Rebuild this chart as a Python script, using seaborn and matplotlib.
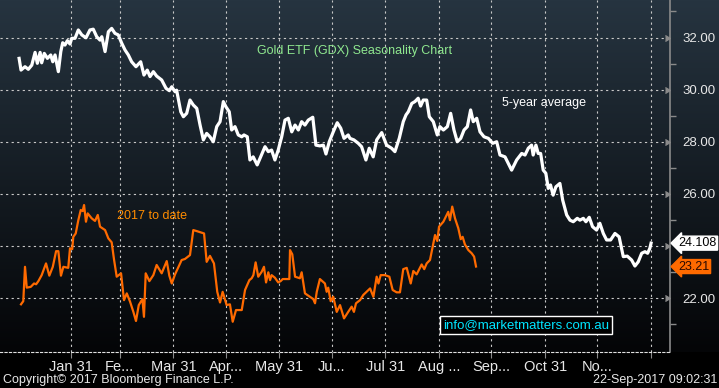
import numpy as np
import pandas as pd
import matplotlib
matplotlib.use("Agg")
import matplotlib.pyplot as plt
import seaborn as sns

# 5-year average seasonal path (day of year, price)
avg_day = [1.1, 2.2, 4.5, 6.4, 8.4, 10.3, 11.6, 13.2, 14.1, 15.6, 17.4, 19.3, 20.5, 21.8, 23.7, 25.1,
           26.2, 27.5, 28.9, 30.4, 31.4, 33.3, 35.2, 37.2, 39.6, 41.9, 43.8, 45.8, 47.7, 48.7, 50.6, 52.5,
           54.4, 56.3, 58.2, 60.2, 62.1, 64.0, 65.9, 68.4, 71.1, 73.0, 74.9, 76.5, 78.4, 80.3, 83.2, 85.7,
           87.6, 89.0, 90.9, 91.8, 94.2, 95.7, 97.6, 99.5, 101.4, 103.4, 105.3, 107.2, 109.1, 111.0, 112.9,
           114.9, 116.8, 118.7, 120.2, 122.1, 123.5, 125.4, 127.3, 129.3, 130.6, 132.5, 134.0, 135.9, 138.2,
           140.2, 142.7, 144.6, 146.5, 148.4, 150.3, 152.3, 154.2, 156.1, 158.1, 160.0, 161.9, 163.8, 165.7,
           167.6, 170.2, 172.0, 174.3, 176.3, 177.8, 179.7, 182.0, 184.3, 186.3, 188.2, 190.6, 191.6, 193.9,
           196.4, 198.3, 200.8, 202.7, 205.0, 207.0, 209.9, 212.7, 215.6, 217.5, 220.0, 222.3, 223.9, 225.2,
           227.2, 229.0, 230.9, 232.3, 233.8, 235.8, 237.3, 239.6, 241.9, 243.4, 245.4, 247.7, 249.6, 251.5,
           253.4, 255.4, 257.3, 259.2, 261.1, 262.6, 264.6, 266.5, 268.8, 271.3, 273.8, 276.1, 278.0, 280.9,
           284.7, 287.6, 290.5, 292.4, 294.3, 296.2, 297.1, 298.7, 300.0, 301.4, 302.9, 304.4, 305.8, 307.1,
           308.6, 310.2, 312.5, 314.1, 316.4, 318.3, 320.2, 322.5, 324.0, 326.0, 327.5, 329.4, 331.3, 333.6,
           335.5, 337.5, 339.4, 341.7, 344.2, 346.6, 349.0, 351.3, 353.8, 355.7, 357.6, 359.6, 361.5, 363.0,
           364.3, 365.0]
avg_val = [31.20, 30.75, 30.88, 30.78, 30.94, 31.43, 31.01, 31.43, 31.03, 31.39, 31.20, 31.33, 31.07, 31.33,
           30.69, 31.46, 31.80, 31.71, 31.88, 31.75, 31.97, 31.97, 32.29, 32.10, 31.99, 32.29, 32.32, 32.03,
           31.90, 32.03, 31.46, 32.22, 32.35, 32.16, 32.10, 31.78, 31.52, 31.33, 31.07, 30.88, 31.07, 30.56,
           30.75, 30.50, 30.69, 30.52, 30.37, 30.05, 29.96, 30.11, 29.92, 29.98, 29.15, 28.96, 29.09, 29.60,
           29.41, 29.28, 28.64, 28.07, 28.32, 28.19, 28.00, 28.58, 28.77, 29.54, 29.34, 29.15, 28.45, 28.58,
           28.26, 28.19, 28.26, 28.19, 27.30, 27.42, 27.11, 27.42, 27.81, 27.62, 27.68, 27.30, 27.68, 28.19,
           28.83, 28.90, 28.38, 28.64, 28.45, 28.77, 28.64, 28.83, 28.94, 27.87, 27.84, 27.87, 27.53, 28.00,
           28.38, 28.73, 28.52, 28.13, 28.26, 28.13, 28.07, 27.94, 27.81, 27.30, 27.75, 27.42, 28.07, 28.35,
           27.87, 27.75, 27.62, 28.13, 28.77, 29.03, 29.15, 29.47, 29.54, 29.67, 29.37, 29.60, 29.60, 28.96,
           28.77, 28.26, 28.58, 28.45, 28.58, 29.09, 28.45, 28.00, 28.13, 28.45, 28.58, 29.22, 28.77, 28.90,
           28.38, 28.19, 28.13, 27.94, 28.00, 27.49, 27.42, 26.91, 27.30, 27.55, 27.49, 27.75, 27.87, 27.49,
           27.87, 27.55, 27.55, 26.91, 26.79, 26.21, 26.34, 25.95, 26.27, 26.40, 25.76, 25.19, 24.99, 24.93,
           25.06, 24.99, 25.06, 24.93, 25.10, 24.74, 24.61, 24.87, 24.48, 24.23, 24.23, 24.48, 24.35, 23.59,
           23.61, 23.46, 23.23, 23.39, 23.72, 23.78, 23.72, 23.91, 24.108]

# 2017 year to date (day of year, price)
ytd_day = [2.2, 3.5, 4.5, 5.5, 7.8, 9.7, 10.9, 12.2, 14.1, 16.6, 18.5, 20.5, 22.4, 23.7, 25.2, 26.6, 29.4,
           30.4, 31.7, 32.3, 33.7, 35.2, 36.6, 37.7, 38.5, 39.6, 40.6, 42.9, 44.8, 46.4, 47.7, 50.6, 52.5,
           54.4, 55.8, 57.3, 59.8, 61.5, 63.1, 65.0, 66.9, 68.4, 70.0, 72.1, 73.0, 74.0, 76.1, 78.4, 80.3,
           83.2, 86.1, 87.6, 89.0, 90.9, 94.7, 96.6, 99.5, 101.4, 103.4, 107.6, 109.1, 111.0, 113.3, 115.2,
           116.8, 118.3, 120.6, 122.5, 124.1, 126.0, 129.3, 131.2, 133.7, 135.0, 136.0, 137.3, 138.8, 140.8,
           142.1, 143.3, 144.6, 145.6, 146.5, 148.4, 150.3, 151.7, 152.9, 156.7, 157.1, 158.4, 160.0, 162.8,
           163.8, 165.7, 168.6, 170.5, 171.5, 172.5, 174.3, 177.2, 178.2, 179.1, 180.5, 182.0, 184.0, 185.9,
           188.2, 190.6, 192.6, 193.9, 195.1, 197.4, 199.3, 201.2, 203.2, 205.1, 207.0, 208.0, 209.3, 211.8,
           214.3, 216.2, 218.5, 220.4, 222.3, 224.3, 226.6, 228.1, 230.0, 232.9, 234.4, 235.8, 237.7, 240.6,
           241.9, 242.9, 245.4, 248.2, 249.2, 250.5, 252.1, 254.0, 255.4, 256.5, 257.8, 259.8, 261.7, 263.1,
           264.2]
ytd_val = [21.76, 21.88, 23.20, 22.40, 22.43, 22.56, 22.53, 22.65, 22.88, 23.33, 22.86, 23.20, 23.80, 23.80,
           22.86, 23.20, 23.16, 23.91, 23.88, 24.35, 24.48, 24.99, 25.38, 25.34, 25.57, 24.93, 25.25, 25.06,
           24.96, 25.19, 24.74, 24.61, 24.29, 24.14, 23.46, 22.82, 22.95, 21.92, 22.18, 21.86, 21.47, 21.12,
           21.73, 21.96, 21.28, 22.95, 22.65, 22.88, 23.27, 22.95, 23.42, 22.86, 22.56, 22.91, 23.46, 23.50,
           23.65, 24.61, 24.57, 24.48, 23.39, 23.62, 23.33, 22.24, 21.83, 22.24, 21.73, 21.76, 21.09, 21.54,
           21.54, 22.31, 22.69, 22.76, 22.88, 23.37, 22.82, 23.01, 23.20, 22.60, 22.99, 22.69, 22.88, 22.78,
           22.60, 22.65, 22.73, 22.73, 23.84, 23.68, 22.82, 22.76, 22.99, 22.18, 22.05, 21.96, 21.80, 22.24,
           22.73, 22.56, 22.24, 22.40, 21.88, 22.05, 21.47, 21.73, 21.22, 21.47, 21.67, 21.47, 21.80, 21.92,
           22.12, 22.24, 22.37, 22.05, 22.82, 22.56, 22.88, 22.88, 22.82, 22.31, 22.22, 22.22, 23.11, 23.16,
           22.56, 23.04, 22.91, 23.29, 23.11, 23.33, 23.46, 24.42, 24.19, 24.74, 24.93, 25.31, 24.99, 25.51,
           25.06, 24.68, 24.26, 24.35, 24.06, 23.84, 23.72, 23.59, 23.21]

month_end_days = [31, 59, 90, 120, 151, 181, 212, 243, 273, 304, 334, 365]
month_labels = ["Jan 31", "Fe...", "Mar 31", "Apr...", "May 31", "Ju...", "Jul 31",
                "Aug ...", "Sep...", "Oct 31", "No...", ""]
y_ticks = [22, 24, 26, 28, 30, 32]
# the 24.00 label sits under the last-value tag in the original
y_labels = ["22.00", "", "26.00", "28.00", "30.00", "32.00"]

avg_df = pd.DataFrame({"day": avg_day, "price": avg_val})
ytd_df = pd.DataFrame({"day": ytd_day, "price": ytd_val})

narrow = ["Liberation Sans Narrow", "Liberation Sans", "DejaVu Sans"]
plt.rcParams["font.family"] = ["Liberation Sans", "DejaVu Sans"]

fig = plt.figure(figsize=(7.19, 3.88), dpi=100, facecolor="black")

# gradient backdrop behind the plot
bg = fig.add_axes([0, 36 / 388, 1, 352 / 388], zorder=0)
top = np.array([38, 52, 64]) / 255
bot = np.array([4, 5, 7]) / 255
t = np.linspace(0, 1, 256)[:, None]
grad = top[None, None, :] * (1 - t[..., None]) + bot[None, None, :] * t[..., None]
bg.imshow(np.repeat(grad, 2, axis=1), aspect="auto", extent=[0, 1, 0, 1])
bg.axis("off")

ax = fig.add_axes([0, 36 / 388, 670 / 719, 352 / 388], zorder=1)
ax.patch.set_alpha(0)

sns.lineplot(data=avg_df, x="day", y="price", ax=ax, color="white", lw=2.3, zorder=4)
sns.lineplot(data=ytd_df, x="day", y="price", ax=ax, color="#ff6a00", lw=1.6, zorder=4)

ax.set_xlim(-9.9, 375.9)
ax.set_ylim(19.93, 33.44)
ax.set_xlabel("")
ax.set_ylabel("")

ax.set_xticks(month_end_days)
ax.set_xticklabels(month_labels)
ax.set_yticks(y_ticks)
ax.set_yticklabels(y_labels)
ax.set_yticks(np.arange(21, 34, 2), minor=True)
ax.yaxis.tick_right()

ax.grid(True, color="#c8c8c8", linestyle=(0, (2, 3)), lw=0.8, zorder=1)
for s in ["top", "left"]:
    ax.spines[s].set_visible(False)
ax.spines["right"].set_color("#8a8a8a")
ax.spines["right"].set_linewidth(1.2)
ax.spines["bottom"].set_color("#e0e0e0")
ax.spines["bottom"].set_linestyle((0, (2, 2)))

ax.tick_params(axis="x", colors="#8a8a8a", length=4, labelcolor="#e8e8e8", labelsize=10.5, pad=2)
ax.tick_params(axis="y", which="major", colors="#8a8a8a", length=0, labelcolor="#e8e8e8",
               labelsize=9.5, pad=9)
ax.tick_params(axis="y", which="minor", colors="#8a8a8a", length=4, width=1)
for lab in ax.get_xticklabels() + ax.get_yticklabels():
    lab.set_family(narrow)
for tk in ax.yaxis.get_major_ticks():
    tk.tick2line.set_marker(5)
    tk.tick2line.set_markersize(5)
    tk.tick2line.set_markerfacecolor("#8a8a8a")
    tk.tick2line.set_visible(True)

# chart annotations
ax.text(0.529, 0.855, "Gold ETF (GDX) Seasonality Chart", transform=ax.transAxes,
        color="#8fe88f", fontsize=9, ha="center", va="center")
ax.text(0.749, 0.707, "5-year average", transform=ax.transAxes,
        color="white", fontsize=9, ha="left", va="center")
ax.text(0.175, 0.386, "2017 to date", transform=ax.transAxes,
        color="#ff8c00", fontsize=9, ha="left", va="center")
ax.text(0.785, 0.077, "info@marketmatters.com.au", transform=ax.transAxes,
        color="#00e5ff", fontsize=9.5, ha="center", va="center",
        bbox=dict(boxstyle="square,pad=0.2", fc="black", ec="white", lw=1))

# last value tags
ax.annotate(f"{avg_val[-1]:.3f}", xy=(1.0, avg_val[-1]), xycoords=("axes fraction", "data"),
            xytext=(6, 0), textcoords="offset points", ha="left", va="center",
            fontsize=9, family=narrow, color="black", annotation_clip=False,
            bbox=dict(boxstyle="larrow,pad=0.08", fc="white", ec="white"))
ax.annotate(f"{ytd_val[-1]:.2f}", xy=(1.0, ytd_val[-1]), xycoords=("axes fraction", "data"),
            xytext=(6, 0), textcoords="offset points", ha="left", va="center",
            fontsize=9, family=narrow, color="#2a0a00", annotation_clip=False,
            bbox=dict(boxstyle="larrow,pad=0.08", fc="#ff6a00", ec="#ff6a00"))

fig.text(3 / 719, 1 - 380 / 388, "Copyright\u00a9 2017 Bloomberg Finance L.P.", color="#e8e8e8",
         fontsize=9, family=narrow, ha="left", va="center")
fig.text(717 / 719, 1 - 380 / 388, "22-Sep-2017 09:02:31", color="#e8e8e8",
         fontsize=9, family=narrow, ha="right", va="center")

fig.savefig("out.png", dpi=100, facecolor="black")
